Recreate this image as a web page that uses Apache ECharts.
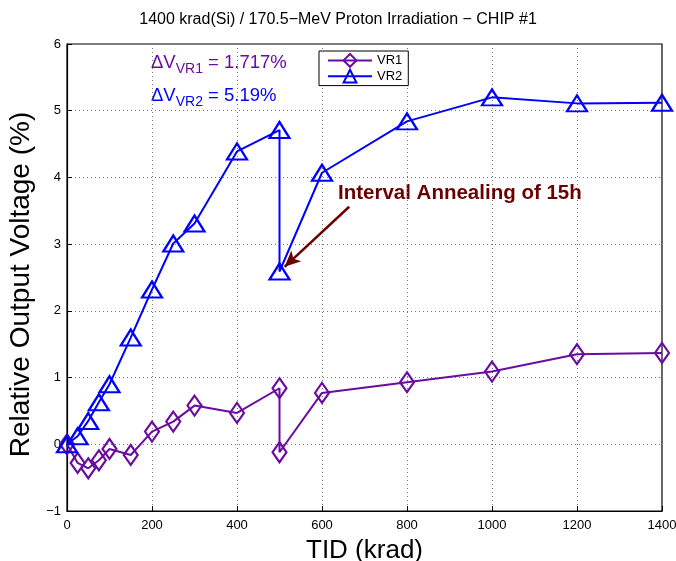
<!DOCTYPE html>
<html><head><meta charset="utf-8">
<script src="https://cdn.jsdelivr.net/npm/echarts@6/dist/echarts.min.js"></script>
<style>html,body{margin:0;padding:0;background:#fff}#c{width:676px;height:561px}</style>
</head><body><div id="c"></div>
<script>
const tid = [0, 25, 50, 75, 100, 150, 200, 250, 300, 400, 500, 500, 600, 800, 1000, 1200, 1400];
const vr1 = [0, -0.28, -0.36, -0.24, -0.07, -0.16, 0.19, 0.34, 0.58, 0.47, 0.84, -0.12, 0.77, 0.93, 1.09, 1.35, 1.37];
const vr2 = [0, 0.12, 0.35, 0.63, 0.9, 1.6, 2.32, 3.01, 3.31, 4.39, 4.71, 2.59, 4.07, 4.84, 5.2, 5.11, 5.12];
const xTicks = [0, 200, 400, 600, 800, 1000, 1200, 1400];
const yTicks = [-1, 0, 1, 2, 3, 4, 5, 6];
const arrowFrom = [664, 3.56];
const arrowTo = [512, 2.66];

const purple = '#6a0ca0', blue = '#0000ff', dark = '#6b0000';
const font = 'Liberation Sans, Arial, sans-serif';
const chart = echarts.init(document.getElementById('c'));
const pairs = (ys) => tid.map((x, i) => [x, ys[i]]);
const sub = (c) => ({a: {fontFamily: font, fontSize: 18.5, fill: c}, s: {fontFamily: font, fontSize: 14, fill: c, verticalAlign: 'bottom', padding: [13, 0, 0, 0]}});
chart.setOption({
  animation: false,
  title: {text: '1400 krad(Si) / 170.5\u2212MeV Proton Irradiation \u2212 CHIP #1', left: 'center', top: 7,
    textStyle: {fontFamily: font, fontWeight: 'normal', fontSize: 16, color: '#000'}},
  grid: {left: 67, right: 14, top: 44, bottom: 50, show: true, borderColor: '#000', borderWidth: 1.2,
    containLabel: false, outerBoundsMode: 'none'},
  legend: {left: 319, top: 51, orient: 'vertical', backgroundColor: '#fff', borderColor: '#000', borderWidth: 1,
    padding: [2, 6, 2, 8], itemGap: 1, itemWidth: 44, itemHeight: 16,
    textStyle: {fontFamily: font, fontSize: 13, color: '#000'}, data: ['VR1', 'VR2']},
  xAxis: {type: 'value', min: 0, max: 1400, interval: 200,
    name: 'TID (krad)', nameLocation: 'middle', nameGap: 27,
    nameTextStyle: {fontFamily: font, fontSize: 26, color: '#000'},
    axisLine: {onZero: false, lineStyle: {color: '#000', width: 1.2}},
    axisTick: {inside: true, length: 5, lineStyle: {color: '#000'}},
    axisLabel: {fontFamily: font, fontSize: 13, color: '#000', margin: 8, formatter: v => String(v)},
    splitLine: {show: true, lineStyle: {type: [1, 3], color: '#777'}}},
  yAxis: {type: 'value', min: -1, max: 6, interval: 1,
    name: 'Relative Output Voltage (%)', nameLocation: 'middle', nameGap: 32,
    nameTextStyle: {fontFamily: font, fontSize: 28, color: '#000', padding: [0, 14, 0, 0]},
    axisLine: {onZero: false, lineStyle: {color: '#000', width: 1.2}},
    axisTick: {inside: true, length: 5, lineStyle: {color: '#000'}},
    axisLabel: {fontFamily: font, fontSize: 13, color: '#000', margin: 6,
      formatter: v => String(v).replace('-', '\u2212')},
    splitLine: {show: true, lineStyle: {type: [1, 3], color: '#777'}}},
  series: [
    {name: 'VR1', type: 'line', data: pairs(vr1), symbol: 'diamond', symbolSize: [14, 20],
      lineStyle: {color: purple, width: 2}, itemStyle: {color: 'rgba(0,0,0,0)', borderColor: purple, borderWidth: 2.2}, z: 3},
    {name: 'VR2', type: 'line', data: pairs(vr2), symbol: 'triangle', symbolSize: [20, 16],
      lineStyle: {color: blue, width: 2}, itemStyle: {color: 'rgba(0,0,0,0)', borderColor: blue, borderWidth: 2.2}, z: 4,
      markLine: {silent: true, symbol: ['none', 'arrow'], symbolSize: [11, 16],
        lineStyle: {color: dark, width: 2.5, type: 'solid'}, label: {show: false},
        data: [[{coord: arrowFrom}, {coord: arrowTo}]]}}
  ],
  graphic: [
    {type: 'text', left: 151, top: 53, style: {text: '{a|\u0394V}{s|VR1}{a| = 1.717%}', rich: sub(purple)}},
    {type: 'text', left: 151, top: 86, style: {text: '{a|\u0394V}{s|VR2}{a| = 5.19%}', rich: sub(blue)}},
    {type: 'text', left: 338, top: 183, style: {text: 'Interval Annealing of 15h', fill: dark,
      font: 'bold 20.5px ' + font}}
  ]
});
</script></body></html>
